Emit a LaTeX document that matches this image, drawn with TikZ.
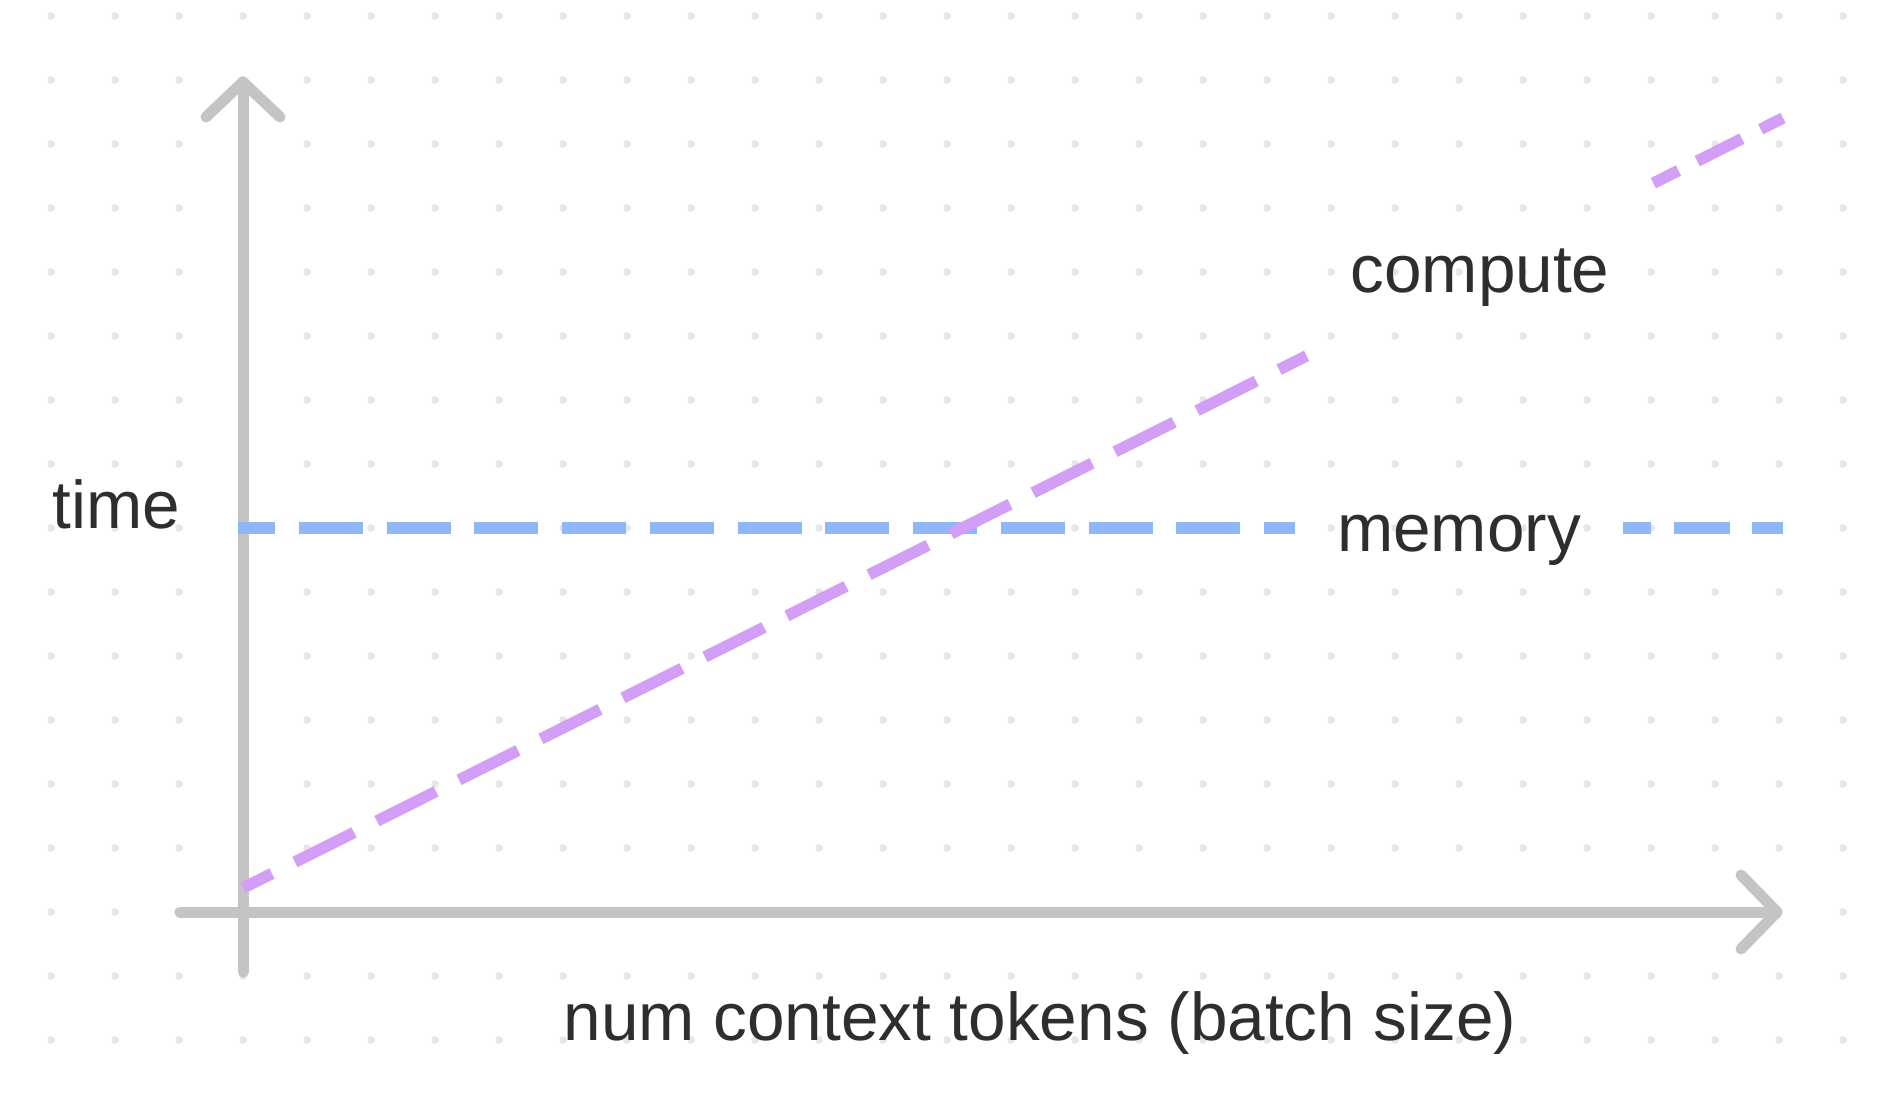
\documentclass[tikz,border=0pt]{standalone}
\usepackage{fontspec}
\setmainfont{Liberation Sans}
\usepackage{tikz}
\usetikzlibrary{positioning,calc}
\usepackage{xcolor}
\definecolor{axisgray}{RGB}{196,196,196}
\definecolor{dotgray}{RGB}{230,230,230}
\definecolor{inkgray}{RGB}{46,46,46}
\definecolor{memblue}{RGB}{143,182,250}
\definecolor{comppurple}{RGB}{210,158,246}
\tikzset{
        axis/.style = {draw=axisgray, line width=5.5pt, line cap=round, line join=round},
        memline/.style = {draw=memblue, line width=5.75pt, dash pattern=on 32pt off 11.875pt},
        compline/.style = {draw=comppurple, line width=5.75pt, dash pattern=on 33pt off 12.85pt},
        tag/.style = {inner sep=0pt, text=inkgray, text height=23pt, text depth=0pt,
                      font=\fontsize{33.75}{40}\selectfont}}

\begin{document}
\begin{tikzpicture}[x=0.5pt, y=-0.5pt]
            \useasboundingbox (0,0) rectangle (1890,1096);
            \fill[white] (0,0) rectangle (1890,1096);
            % dot grid
            \foreach \i in {0,...,28}
              \foreach \j in {0,...,16}
                \fill[dotgray] ({51+64*\i},{16+64*\j}) circle[radius=1.9pt];

            \coordinate (ybot) at (243,972);
            \coordinate (ytip) at (243,82);
            \coordinate (xbeg) at (180,912);
            \coordinate (xtip) at (1777,912);
            \coordinate (m0) at (238,528);
            \coordinate (m1) at (1783,528);
            \coordinate (c0) at (243,888);
            \coordinate (c1) at (1783,118);

            \node [tag, minimum width=164pt] (mem) at (1459,528) {memory};
            \node [tag, minimum width=173pt, minimum height=100pt] (comp) at (1480,270) {compute};
            \node [tag, anchor=base] (time) at (116.5,528) {time};
            \node [tag, anchor=base] (ctx) at (1040,1040) {num context tokens (batch size)};

            \begin{scope}[axis]
            \draw (ybot) -- (ytip);
            \draw ($(ytip)+(-37,35)$) -- (ytip) -- ($(ytip)+(37,35)$);
            \draw (xbeg) -- (xtip);
            \draw ($(xtip)+(-36,-37)$) -- (xtip) -- ($(xtip)+(-36,37)$);
            \end{scope}

            \draw[memline, dash phase=13.5pt] (m0) -- (mem);
            \draw[memline, dash pattern=on 28pt off 11.25pt, dash phase=14pt] (mem) -- (m1);
            \draw[compline, dash phase=16.8pt] (c0) -- (comp);
            \draw[compline, dash pattern=on 25pt off 10.5pt, dash phase=11pt] (comp) -- (c1);
    \end{tikzpicture}
\end{document}
